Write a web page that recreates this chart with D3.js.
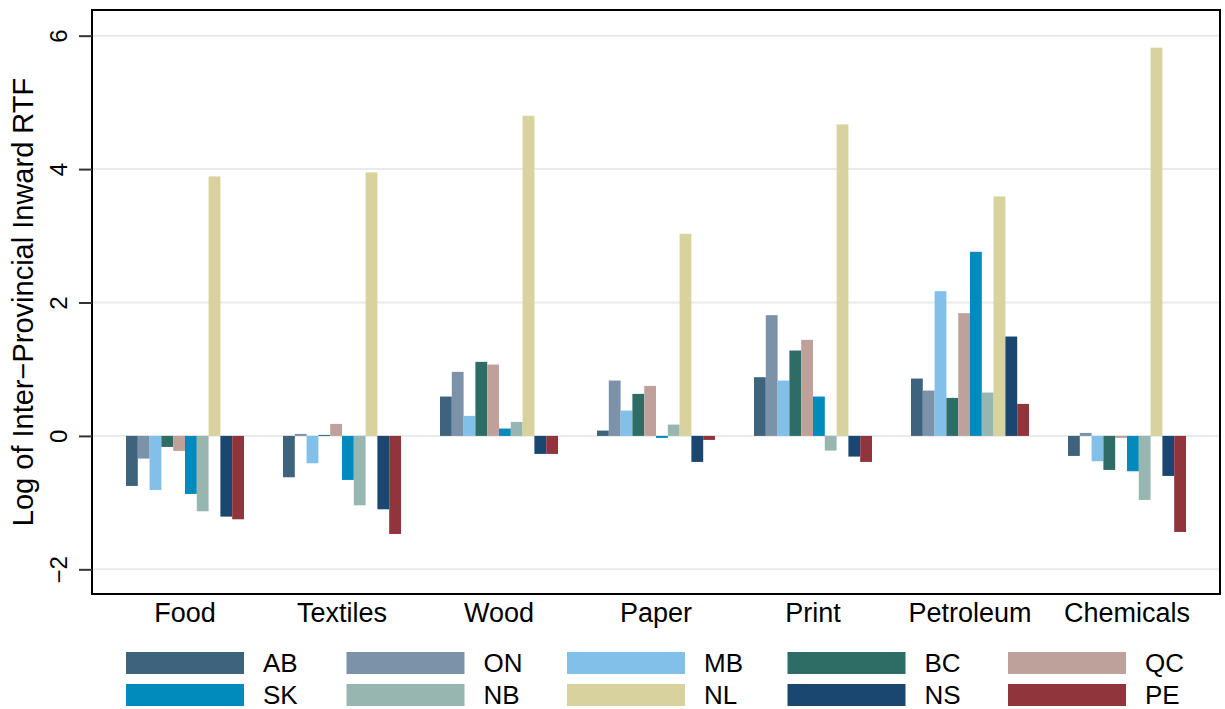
<!DOCTYPE html>
<html>
<head>
<meta charset="utf-8">
<script src="https://cdn.jsdelivr.net/npm/d3@7"></script>
<style>
  body { margin: 0; background: #fff; }
  svg { font-family: "Liberation Sans", Arial, Helvetica, sans-serif; }
</style>
</head>
<body>
<svg id="chart" width="1225" height="709"></svg>
<script>
// industries along the x axis
var categories = ["Food", "Textiles", "Wood", "Paper", "Print", "Petroleum", "Chemicals"];
// provinces, in bar order
var provinces = ["AB", "ON", "MB", "BC", "QC", "SK", "NB", "NL", "NS", "PE"];
var colors = ["#3e647d", "#7b92a8", "#82c0e9", "#2d6d66", "#bfa19c",
              "#008bbc", "#97b6b0", "#d7d29e", "#1a476f", "#90353b"];

// log inter-provincial inward RTF, one value per industry
var AB = [-0.75, -0.62, 0.59, 0.08, 0.88, 0.86, -0.30];
var ON = [-0.34, 0.03, 0.96, 0.83, 1.81, 0.68, 0.045];
var MB = [-0.81, -0.41, 0.30, 0.38, 0.83, 2.17, -0.38];
var BC = [-0.165, 0.015, 1.11, 0.63, 1.28, 0.57, -0.51];
var QC = [-0.225, 0.18, 1.07, 0.75, 1.44, 1.84, -0.03];
var SK = [-0.87, -0.66, 0.11, -0.03, 0.59, 2.76, -0.53];
var NB = [-1.13, -1.04, 0.21, 0.17, -0.22, 0.65, -0.96];
var NL = [3.89, 3.95, 4.80, 3.03, 4.67, 3.59, 5.82];
var NS = [-1.21, -1.10, -0.27, -0.39, -0.31, 1.49, -0.60];
var PE = [-1.25, -1.47, -0.27, -0.06, -0.39, 0.48, -1.44];

var yTicks = [-2, 0, 2, 4, 6];

var series = [AB, ON, MB, BC, QC, SK, NB, NL, NS, PE];

var svg = d3.select("#chart");
var plot = { left: 92, right: 1220, top: 10, bottom: 594 };

var x0 = d3.scaleBand()
    .domain(categories)
    .range([plot.left, plot.right])
    .paddingInner(39 / 157)
    .paddingOuter(34 / 157);

var x1 = d3.scaleBand()
    .domain(provinces)
    .range([0, x0.bandwidth()]);

var y = d3.scaleLinear()
    .domain([-2.37, 6.385])
    .range([plot.bottom, plot.top]);

var color = d3.scaleOrdinal().domain(provinces).range(colors);

// gridlines
svg.append("g").selectAll("line").data(yTicks).enter().append("line")
    .attr("x1", plot.left).attr("x2", plot.right)
    .attr("y1", function (d) { return y(d); })
    .attr("y2", function (d) { return y(d); })
    .attr("stroke", "#eaeaea")
    .attr("stroke-width", 2);

// bars
var rows = [];
categories.forEach(function (c, i) {
    provinces.forEach(function (p, j) {
        rows.push({ cat: c, prov: p, value: series[j][i] });
    });
});

svg.append("g").selectAll("rect").data(rows).enter().append("rect")
    .attr("x", function (d) { return x0(d.cat) + x1(d.prov); })
    .attr("width", x1.bandwidth())
    .attr("y", function (d) { return y(Math.max(0, d.value)); })
    .attr("height", function (d) { return Math.abs(y(d.value) - y(0)); })
    .attr("fill", function (d) { return color(d.prov); });

// frame
svg.append("rect")
    .attr("x", plot.left).attr("y", plot.top)
    .attr("width", plot.right - plot.left)
    .attr("height", plot.bottom - plot.top)
    .attr("fill", "none")
    .attr("stroke", "#000")
    .attr("stroke-width", 2);

// y axis: ticks with rotated labels
var yAxis = svg.append("g")
    .attr("transform", "translate(" + plot.left + ",0)")
    .call(d3.axisLeft(y).tickValues(yTicks).tickSize(13).tickPadding(0)
        .tickFormat(function (d) { return d < 0 ? "\u2212" + Math.abs(d) : d; }));
yAxis.select(".domain").remove();
yAxis.selectAll(".tick line").attr("stroke", "#333").attr("stroke-width", 2);
yAxis.selectAll(".tick text")
    .attr("x", null).attr("dy", null)
    .attr("transform", "translate(-25,0) rotate(-90)")
    .attr("text-anchor", "middle")
    .attr("font-size", 24)
    .attr("fill", "#000");

svg.append("text")
    .attr("transform", "translate(33," + ((plot.top + plot.bottom) / 2) + ") rotate(-90)")
    .attr("text-anchor", "middle")
    .attr("font-size", 29)
    .text("Log of Inter\u2212Provincial Inward RTF");

// category labels
svg.append("g").selectAll("text").data(categories).enter().append("text")
    .attr("x", function (d) { return x0(d) + x0.bandwidth() / 2; })
    .attr("y", 622)
    .attr("text-anchor", "middle")
    .attr("font-size", 27)
    .text(function (d) { return d; });

// legend: 5 columns, 2 rows
var legend = svg.append("g").selectAll("g").data(provinces).enter().append("g")
    .attr("transform", function (d, i) {
        return "translate(" + (126 + (i % 5) * 220.5) + "," + (652 + Math.floor(i / 5) * 32) + ")";
    });
legend.append("rect")
    .attr("width", 118).attr("height", 22)
    .attr("fill", function (d) { return color(d); });
legend.append("text")
    .attr("x", 137).attr("y", 20)
    .attr("font-size", 26)
    .text(function (d) { return d; });
</script>
</body>
</html>
